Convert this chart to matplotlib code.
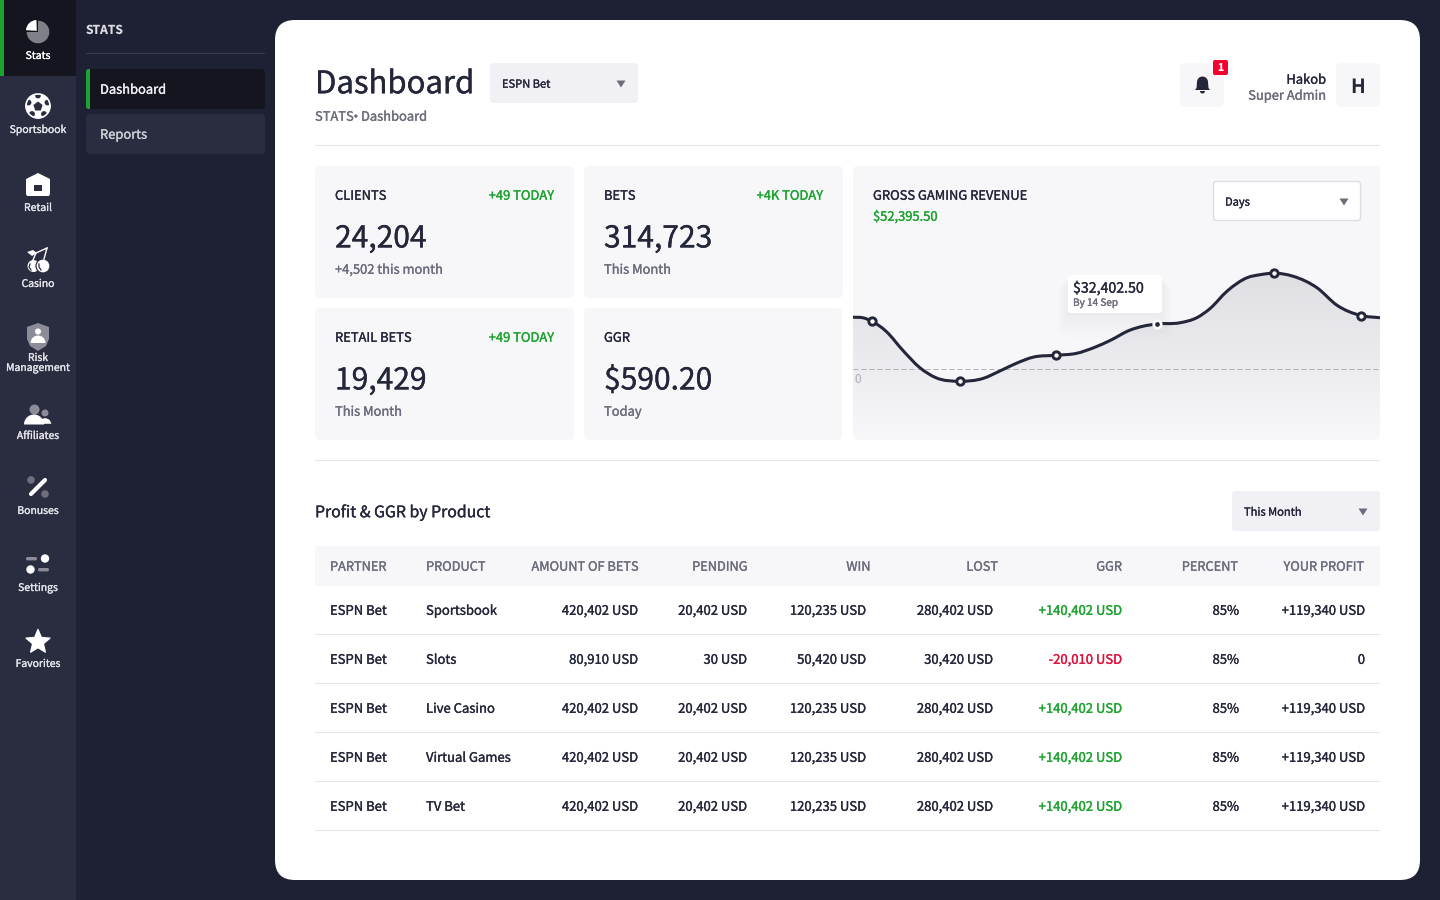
import numpy as np
import matplotlib
matplotlib.use("Agg")
import matplotlib.pyplot as plt
import matplotlib.patheffects as pe
from matplotlib.patches import FancyBboxPatch, Rectangle, Circle, Polygon, Wedge, PathPatch
from matplotlib.path import Path
from matplotlib.colors import LinearSegmentedColormap

plt.rcParams['font.family'] = ['Noto Sans CJK SC', 'DejaVu Sans']
plt.rcParams['text.hinting'] = 'none'
plt.rcParams['text.hinting_factor'] = 1

# sidebar
nav_labels = ["Stats", "Sportsbook", "Retail", "Casino", "Risk\nManagement", "Affiliates", "Bonuses", "Settings", "Favorites"]
sub_items = ["Dashboard", "Reports"]

# stat cards
card_titles = ["CLIENTS", "BETS", "RETAIL BETS", "GGR"]
card_today = ["+49 TODAY", "+4K TODAY", "+49 TODAY", ""]
card_values = ["24,204", "314,723", "19,429", "$590.20"]
card_notes = ["+4,502 this month", "This Month", "This Month", "Today"]

# revenue curve
curve_pos = [0, 10, 19, 33, 50, 67, 83, 107, 130, 147, 163, 180, 203, 223, 243, 257, 277, 290, 304, 327, 344, 357, 374, 394, 408, 421, 440, 464, 484, 508, 527]
curve_val = [37300, 36860, 34400, 27200, 13300, 860, -6300, -8800, -6800, -1400, 4000, 8500, 9900, 11200, 16000, 20500, 28000, 30800, 32400, 33300, 37000, 43500, 56000, 65700, 68000, 69000, 66800, 58500, 45900, 38500, 36900]
marker_pos = [19, 107, 203, 421, 508]
marker_val = [34400, -8800, 9900, 69000, 38500]

# table
table_head = ["PARTNER", "PRODUCT", "AMOUNT OF BETS", "PENDING", "WIN", "LOST", "GGR", "PERCENT", "YOUR PROFIT"]
partners = ["ESPN Bet"] * 5
products = ["Sportsbook", "Slots", "Live Casino", "Virtual Games", "TV Bet"]
amounts = ["420,402 USD", "80,910 USD", "420,402 USD", "420,402 USD", "420,402 USD"]
pending = ["20,402 USD", "30 USD", "20,402 USD", "20,402 USD", "20,402 USD"]
wins = ["120,235 USD", "50,420 USD", "120,235 USD", "120,235 USD", "120,235 USD"]
lost = ["280,402 USD", "30,420 USD", "280,402 USD", "280,402 USD", "280,402 USD"]
ggr = ["+140,402 USD", "-20,010 USD", "+140,402 USD", "+140,402 USD", "+140,402 USD"]
percent = ["85%"] * 5
profit = ["+119,340 USD", "0", "+119,340 USD", "+119,340 USD", "+119,340 USD"]

NAVY = "#1e2133"
NAV_BG = "#2a2c40"
ACTIVE = "#14151f"
DARK = "#24263a"
GREY = "#6c6d7c"
GREEN = "#1da32f"
RED = "#e0103a"
CARD = "#f7f7fa"
LINE = "#e6e6ea"
W = "#ffffff"

fig = plt.figure(figsize=(14.4, 9), dpi=100, facecolor=NAVY)
ui = fig.add_axes([0, 0, 1, 1])
ui.set_xlim(0, 1440)
ui.set_ylim(900, 0)
ui.axis("off")


def box(x, y, w, h, color, r=4, ax=ui, **kw):
    p = FancyBboxPatch((x, y), w, h, boxstyle="round,pad=0,rounding_size=%s" % r, fc=color, ec=kw.pop("ec", "none"), lw=kw.pop("lw", 0), **kw)
    ax.add_patch(p)
    return p


def txt(x, y, s, size=9.4, color=DARK, ha="left", weight=500, ax=None, **kw):
    # y is the middle of the capitals, baseline keeps rows from jumping around
    ax = ax or ui
    base = y + 0.458 * size
    t = ax.text(x, base, s, fontsize=size, color=color, ha=ha, va="baseline", fontweight=700 if weight == 700 else 400, **kw)
    if weight == 500:
        t.set_path_effects([pe.withStroke(linewidth=0.22, foreground=color)])
    return t


def hline(y, x0=315, x1=1380, color=LINE):
    ui.add_patch(Rectangle((x0, y), x1 - x0, 1, fc=color, ec="none"))


def arrow(x, y, color="#6c6d7c"):
    ui.add_patch(Polygon([(x - 4.5, y - 3.5), (x + 4.5, y - 3.5), (x, y + 3.5)], fc=color, ec="none"))


# left rail
ui.add_patch(Rectangle((0, 0), 76, 900, fc=NAV_BG, ec="none"))
ui.add_patch(Rectangle((0, 0), 76, 76, fc=ACTIVE, ec="none"))
ui.add_patch(Rectangle((0, 0), 4, 76, fc=GREEN, ec="none"))
label_y = [55.5, 129.5, 207.5, 283.5, 357.5, 435.5, 510.5, 587.5, 663.5]
for lab, y in zip(nav_labels, label_y):
    for k, part in enumerate(lab.split("\n")):
        txt(38, y + k * 10, part, size=7.5, color="#e4e4ea" if lab != "Stats" else W, ha="center")

icon_grey = "#8b8c98"
# stats
ui.add_patch(Wedge((38, 32), 11.3, -90, 180, fc="#808089", ec="none"))
ui.add_patch(Wedge((36.8, 30.8), 10.8, 183, 268, fc=W, ec="none"))
# sportsbook ball
ui.add_patch(Circle((38, 106), 12.5, fc=W, ec="none"))
ui.add_patch(Polygon([(38, 101.5), (42.6, 105), (40.8, 110.5), (35.2, 110.5), (33.4, 105)], fc=NAV_BG, ec="none"))
for bx, by in [(38, 95.5), (28.5, 102.5), (47.5, 102.5), (32, 114), (44, 114)]:
    ui.add_patch(Circle((bx, by), 2.9, fc=NAV_BG, ec="none"))
ui.add_patch(Circle((38, 106), 12, fc="none", ec=W, lw=1.2))
# retail
ui.add_patch(Polygon([(26, 179), (38, 173), (50, 179), (50, 194), (49, 196), (27, 196), (26, 194)], fc=W, ec="none"))
ui.add_patch(Rectangle((34, 185), 8, 6, fc=NAV_BG, ec="none"))
# casino cherries
ui.add_patch(Circle((33.5, 266), 6, fc=W, ec="none"))
ui.add_patch(Circle((43, 266), 7, fc=W, ec=NAV_BG, lw=0.9))
ui.plot([33, 36, 47], [260, 253, 248], color=W, lw=1)
ui.plot([44, 47], [259, 248], color=W, lw=1)
ui.add_patch(Polygon([(27, 252), (33, 250), (37, 253), (32, 256)], fc=W, ec="none"))
ui.plot([30, 29, 31], [264, 267, 270], color=NAV_BG, lw=0.9)
ui.plot([39, 39, 41], [264, 267, 270], color=NAV_BG, lw=0.9)
# risk shield
ui.add_patch(Polygon([(27, 327), (38, 323), (49, 327), (49, 339), (46, 346), (38, 351), (30, 346), (27, 339)], fc=icon_grey, ec="none"))
ui.add_patch(Circle((38, 331.5), 3, fc=W, ec="none"))
ui.add_patch(Wedge((38, 343), 7.5, 180, 360, fc=W, ec="none"))
# affiliates
ui.add_patch(Circle((34.5, 409.5), 5, fc=icon_grey, ec="none"))
ui.add_patch(Circle((45, 413), 3.5, fc=icon_grey, ec="none"))
ui.add_patch(Wedge((45, 424.5), 7, 180, 360, fc=W, ec=NAV_BG, lw=1))
ui.add_patch(Wedge((34, 424.5), 10, 180, 360, fc=W, ec="none"))
# bonuses
ui.add_patch(Circle((31, 480), 3.8, fc="#6e6f7e", ec="none"))
ui.add_patch(Circle((45, 494), 3.8, fc="#6e6f7e", ec="none"))
ui.plot([31, 45], [494, 480], color=W, lw=3, solid_capstyle="round")
# settings
ui.add_patch(Circle((45, 558.5), 4.2, fc=W, ec="none"))
ui.add_patch(Circle((30.5, 569.5), 4.2, fc=W, ec="none"))
box(26, 557, 11, 3.4, icon_grey, r=1.6)
box(38, 568, 11, 3.4, icon_grey, r=1.6)
# favorites star
star_a = np.deg2rad(np.arange(-90, 270, 36))
star_r = np.where(np.arange(10) % 2 == 0, 12.5, 5.6)
ui.add_patch(Polygon(np.c_[38 + star_r * np.cos(star_a), 642 + star_r * np.sin(star_a)], fc=W, ec=W, lw=1, joinstyle="round"))

# second column
txt(86, 29.5, "STATS", size=8.7, color="#dcdce4", weight=700)
hline(53, 86, 265, "#3a3c50")
box(86, 69, 179, 40, ACTIVE, r=4)
box(86, 69, 6, 40, GREEN, r=2.5)
ui.add_patch(Rectangle((90, 69), 3, 40, fc=ACTIVE, ec="none"))
box(86, 114, 179, 40, NAV_BG, r=4)
txt(100, 89.5, sub_items[0], size=9.3, color="#f0f0f4")
txt(100, 134.5, sub_items[1], size=9.3, color="#cfcfd8")

# white panel
box(275, 20, 1145, 860, W, r=20)

# header
txt(315, 83, "Dashboard", size=22.4)
txt(315, 116.5, "STATS", size=9.3, color=GREY)
txt(356, 116.5, "•", size=7, color=GREY, ha="center", family="DejaVu Sans")
txt(361, 116.5, "Dashboard", size=9.3, color=GREY)
box(490, 63, 148, 40, "#f1f1f5", r=3)
txt(502, 84, "ESPN Bet", size=8)
arrow(621, 84)
box(1180, 63, 44, 44, CARD, r=5)
# bell
ui.add_patch(Wedge((1202.5, 82), 5.5, 180, 360, fc=DARK, ec="none"))
ui.add_patch(Polygon([(1197, 82), (1208, 82), (1208.5, 88), (1210, 90), (1195, 90), (1196.5, 88)], fc=DARK, ec="none"))
ui.add_patch(Wedge((1202.5, 91), 2.5, 0, 180, fc=DARK, ec="none"))
box(1213, 60, 15, 15, "#f5002f", r=2)
txt(1220.5, 67.5, "1", size=7.5, color=W, ha="center", weight=700)
txt(1326, 79.5, "Hakob", size=9.3, ha="right")
txt(1326, 95.5, "Super Admin", size=9.3, color=GREY, ha="right")
box(1336, 63, 44, 44, CARD, r=5)
txt(1358, 87, "H", size=14, ha="center", weight=700)
hline(145)

# stat cards
card_x = [315, 584, 315, 584]
card_y = [166, 166, 308, 308]
card_w = [259, 259, 259, 258]
for i in range(4):
    x, y = card_x[i], card_y[i]
    box(x, y, card_w[i], 132, CARD, r=5)
    txt(x + 20, y + 29.5, card_titles[i], size=9.3)
    if card_today[i]:
        txt(x + card_w[i] - 20, y + 29.5, card_today[i], size=9.3, color=GREEN, ha="right")
    txt(x + 20, y + 71.5, card_values[i], size=21.6)
    txt(x + 20, y + 103.5, card_notes[i], size=9.3, color=GREY)

# revenue card
box(853, 166, 527, 274, CARD, r=5)
txt(873, 195.5, "GROSS GAMING REVENUE", size=9.3)
txt(873, 216.5, "$52,395.50", size=9.3, color=GREEN)
box(1213.5, 181.5, 147, 39, W, r=3, ec="#dddde6", lw=1)
txt(1225, 202, "Days", size=8)
arrow(1344, 202)

ax = fig.add_axes([853 / 1440, 1 - 440 / 900, 527 / 1440, 200 / 900])
ax.patch.set_alpha(0)
ax.axis("off")
ylims = ((369 - 440) * 720, (369 - 240) * 720)
ax.set_xlim(0, 527)
ax.set_ylim(ylims)

# smooth line through the read points (bezier handles from neighbours)
px = np.array(curve_pos, dtype=float)
py = np.array(curve_val, dtype=float)
tan = np.gradient(py, px)
verts = [(px[0], py[0])]
codes = [Path.MOVETO]
for i in range(len(px) - 1):
    d = (px[i + 1] - px[i]) / 3
    verts += [(px[i] + d, py[i] + tan[i] * d), (px[i + 1] - d, py[i + 1] - tan[i + 1] * d), (px[i + 1], py[i + 1])]
    codes += [Path.CURVE4] * 3
bottom = ylims[0]
fill_bottom = (369 - 435) * 720
area = Path(verts + [(527, fill_bottom), (0, fill_bottom), (0, py[0]), (0, py[0])], codes + [Path.LINETO, Path.LINETO, Path.LINETO, Path.CLOSEPOLY])
cmap = LinearSegmentedColormap.from_list("fade", ["#dedee3", "#f7f7fa"])
grad = np.linspace(0, 1, 200).reshape(-1, 1)
im = ax.imshow(grad, cmap=cmap, aspect="auto", extent=[0, 527, fill_bottom, 70000], origin="upper", zorder=1)
clip = PathPatch(area, fc="none", ec="none", transform=ax.transData)
ax.add_patch(clip)
im.set_clip_path(clip)
ax.set_xlim(0, 527)
ax.set_ylim(ylims)
ax.axhline(0, color="#b0b0b6", lw=0.72, ls=(0, (5, 3)), zorder=2)
ax.add_patch(PathPatch(Path(verts, codes), fc="none", ec=DARK, lw=2.2, zorder=3, capstyle="butt"))
ax.plot(marker_pos, marker_val, "o", ms=5.3, mfc=W, mec=DARK, mew=2.1, zorder=4, clip_on=False)
ax.plot([304], [32400], "o", ms=5.4, mfc=DARK, mec=W, mew=2, zorder=4)
ax.text(2, -7600, "0", fontsize=8.6, color="#b4b4bc", va="center")

# tooltip
tip = fig.add_axes([0, 0, 1, 1])
tip.set_xlim(0, 1440)
tip.set_ylim(900, 0)
tip.axis("off")
tip.patch.set_alpha(0)
for k in range(6):
    box(1068 - k * 2, 277 + k * 1.5, 94 + k * 4, 38 + k * 3, "#24263a", r=4 + k, ax=tip, alpha=0.008)
box(1068, 275, 94, 38, W, r=3, ax=tip)
txt(1073, 288, "$32,402.50", size=10.2, ax=tip)
txt(1073, 302.5, "By 14 Sep", size=7.2, color=GREY, ax=tip)

# table section
hline(460)
txt(315, 512, "Profit & GGR by Product", size=11.4)
box(1232, 491, 148, 40, "#f1f1f5", r=3)
txt(1244, 512, "This Month", size=8)
arrow(1363, 512)
ui.add_patch(Rectangle((315, 546), 1065, 40, fc=CARD, ec="none"))

head_x = [330, 426, 638.5, 747.5, 870.5, 998, 1122, 1238, 1364]
head_ha = ["left", "left"] + ["right"] * 7
for s, x, ha in zip(table_head, head_x, head_ha):
    txt(x, 566.5, s, size=9.2, color=GREY, ha=ha)

row_y = [610.5, 659.5, 708.5, 757.5, 806.5]
for i, y in enumerate(row_y):
    txt(330, y, partners[i])
    txt(426, y, products[i])
    txt(638, y, amounts[i], ha="right")
    txt(747, y, pending[i], ha="right")
    txt(866, y, wins[i], ha="right")
    txt(993, y, lost[i], ha="right")
    txt(1122, y, ggr[i], ha="right", color=RED if ggr[i].startswith("-") else GREEN)
    txt(1239, y, percent[i], ha="right")
    txt(1365, y, profit[i], ha="right")
    hline(y + 23.5)

fig.savefig("out.png", dpi=100, facecolor=NAVY)
